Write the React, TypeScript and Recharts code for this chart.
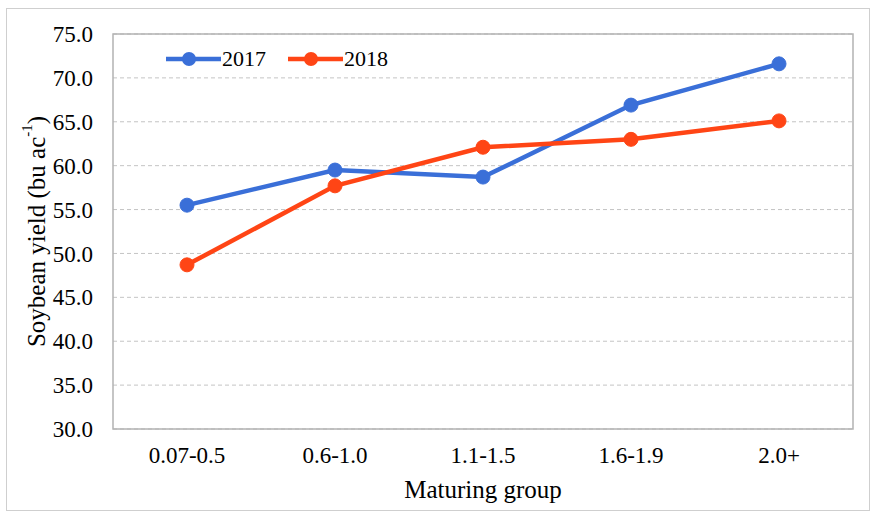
import React from 'react';
import {
  LineChart,
  Line,
  XAxis,
  YAxis,
  CartesianGrid,
  Legend,
  ReferenceArea,
} from 'recharts';

// 成熟组别
const groups = ['0.07-0.5', '0.6-1.0', '1.1-1.5', '1.6-1.9', '2.0+'];
// 产量 (bu ac-1)
const yield2017 = [55.5, 59.5, 58.7, 66.9, 71.6];
const yield2018 = [48.7, 57.7, 62.1, 63.0, 65.1];
const yTicks = [30, 35, 40, 45, 50, 55, 60, 65, 70, 75];

const BLUE = '#3a6fd8';
const ORANGE = '#ff4515';
const FONT = "'Liberation Serif', 'Times New Roman', 'DejaVu Serif', serif";

const chartData = groups.map((g, i) => ({
  group: g,
  y2017: yield2017[i],
  y2018: yield2018[i],
}));

const LegendContent = ({ payload }: { payload?: Array<{ value: string; color: string }> }) => (
  <div style={{ display: 'flex', alignItems: 'center', fontFamily: FONT, fontSize: 22 }}>
    {(payload || []).map((p) => (
      <div key={p.value} style={{ display: 'flex', alignItems: 'center', marginRight: 22 }}>
        <svg width={55} height={16}>
          <line x1={0} y1={8} x2={55} y2={8} stroke={p.color} strokeWidth={4.5} />
          <circle cx={23} cy={8} r={7} fill={p.color} />
        </svg>
        <span style={{ color: '#000', marginLeft: 1, fontFamily: FONT }}>{p.value}</span>
      </div>
    ))}
  </div>
);

const YLabel = ({ viewBox }: { viewBox?: { x: number; y: number; width: number; height: number } }) => {
  if (!viewBox) return null;
  const cx = viewBox.x + 28;
  const cy = viewBox.y + viewBox.height / 2;
  return (
    <text
      x={cx}
      y={cy}
      transform={`rotate(-90 ${cx} ${cy})`}
      textAnchor="middle"
      dominantBaseline="central"
      style={{ fontFamily: FONT, fontSize: 25 }}
      fill="#000"
    >
      <tspan>Soybean yield (bu ac</tspan>
      <tspan fontSize={15} dy={-9}>-1</tspan>
      <tspan dy={9}>)</tspan>
    </text>
  );
};

const tickStyle = { fill: '#000', fontSize: 23, fontFamily: FONT, style: { fontFamily: FONT } };

export default function App() {
  return (
    <div
      style={{
        position: 'absolute',
        left: 0,
        top: 0,
        width: 872,
        height: 513,
        background: '#fff',
        fontFamily: FONT,
      }}
    >
      <div
        style={{
          position: 'absolute',
          left: 6,
          top: 8,
          width: 862,
          height: 501,
          border: '1.5px solid #cfcfcf',
        }}
      />
      <LineChart
        width={872}
        height={513}
        data={chartData}
        margin={{ top: 34, right: 19, bottom: 6, left: 8 }}
        style={{ position: 'absolute', left: 0, top: 0, fontFamily: FONT }}
      >
        <CartesianGrid vertical={false} stroke="#c4c4c4" strokeDasharray="4 3" />
        <XAxis
          dataKey="group"
          scale="band"
          height={78}
          axisLine={false}
          tickLine={false}
          tickMargin={12}
          tick={tickStyle}
          label={{
            value: 'Maturing group',
            position: 'insideBottom',
            offset: 9,
            fill: '#000',
            fontSize: 25,
            style: { fontFamily: FONT },
          }}
        />
        <YAxis
          width={105}
          domain={[30, 75]}
          ticks={yTicks}
          interval={0}
          axisLine={false}
          tickLine={false}
          tickMargin={14}
          tickFormatter={(v: number) => v.toFixed(1)}
          tick={tickStyle}
          label={<YLabel />}
        />
        <ReferenceArea y1={30} y2={75} fill="none" stroke="#b3b3b3" strokeWidth={1.5} />
        <Legend
          layout="horizontal"
          verticalAlign="middle"
          align="center"
          wrapperStyle={{ top: 46, left: 166, width: 'auto' }}
          content={<LegendContent />}
        />
        <Line
          name="2017"
          dataKey="y2017"
          stroke={BLUE}
          strokeWidth={4.5}
          dot={{ r: 7, fill: BLUE, stroke: BLUE, strokeWidth: 1 }}
          isAnimationActive={false}
        />
        <Line
          name="2018"
          dataKey="y2018"
          stroke={ORANGE}
          strokeWidth={4.5}
          dot={{ r: 7, fill: ORANGE, stroke: ORANGE, strokeWidth: 1 }}
          isAnimationActive={false}
        />
      </LineChart>
    </div>
  );
}
